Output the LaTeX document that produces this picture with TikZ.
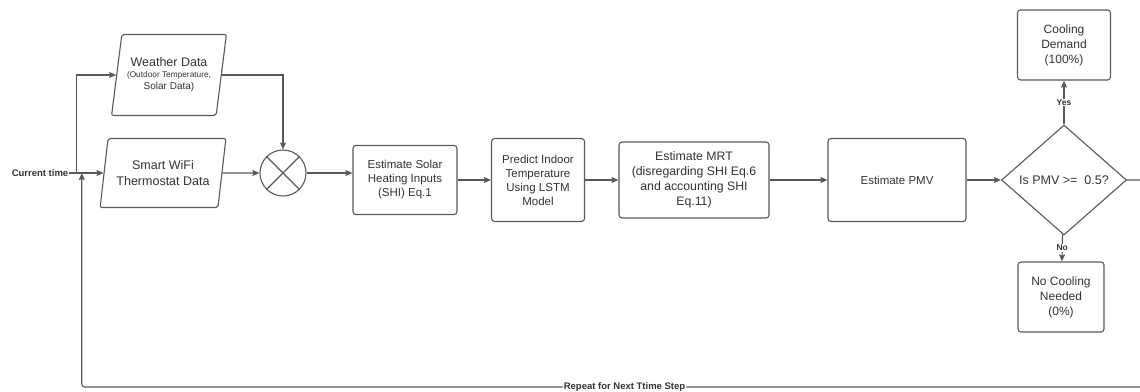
\documentclass[tikz,border=0pt]{standalone}
\usepackage{fontspec}
\setmainfont{Liberation Sans}
\usetikzlibrary{positioning,shapes.geometric,arrows.meta}
\definecolor{linegray}{HTML}{595959}
\definecolor{textgray}{HTML}{333333}

\begin{document}
\begin{tikzpicture}[x=1pt, y=-1pt, >={Stealth[length=7pt, width=6pt, inset=1pt]}, line width=1.1pt,
    every node/.style={text=textgray, align=center, inner sep=0pt},
    proc/.style={draw=linegray, rectangle, rounded corners=3pt, fill=white, font=\fontsize{11.5}{14}\selectfont},
    data/.style={draw=linegray, trapezium, trapezium left angle=75, trapezium right angle=105, trapezium stretches=true, rounded corners=2pt},
    mix/.style={draw=linegray, circle, minimum size=46pt},
    decide/.style={draw=linegray, diamond, minimum width=125pt, minimum height=110pt, fill=white, font=\fontsize{12.5}{15}\selectfont},
    flow/.style={->, draw=linegray},
    tag/.style={font=\bfseries\fontsize{9.5}{11}\selectfont}]

    \useasboundingbox (0,0) rectangle (1140,391);

    % Nodes
    \node (smart) [data, minimum width=126pt, minimum height=69pt, font=\fontsize{12.5}{16}\selectfont] at (163,173) {Smart WiFi\\Thermostat Data};
    \node (now) [tag, left of=smart, node distance=123pt] {Current time};
    \node (weather) [data, above of=smart, node distance=98pt, xshift=6pt, minimum width=115pt, minimum height=81pt] {\fontsize{12.5}{14}\selectfont Weather Data\\[-1pt]\fontsize{8.3}{10}\selectfont (Outdoor Temperature,\\Solar Data)};
    \node (circ) [mix, right of=smart, node distance=120pt] {};
    \node (s1) [proc, minimum width=104pt, minimum height=69pt] at (405,180) {Estimate Solar\\Heating Inputs\\(SHI) Eq.1};
    \node (s2) [proc, right of=s1, node distance=133pt, minimum width=93pt, minimum height=83pt] {Predict Indoor\\Temperature\\Using LSTM\\Model};
    \node (s3) [proc, right of=s2, node distance=156pt, minimum width=150pt, minimum height=76pt, font=\fontsize{12.3}{15}\selectfont] {Estimate MRT\\(disregarding SHI Eq.6\\and accounting SHI\\Eq.11)};
    \node (s4) [proc, right of=s3, node distance=203pt, minimum width=138pt, minimum height=83pt] {Estimate PMV};
    \node (dec) [decide, right of=s4, node distance=167pt] {Is PMV >=\ \ 0.5?};
    \node (cool) [proc, above of=dec, node distance=135pt, minimum width=93pt, minimum height=70pt, font=\fontsize{12}{15}\selectfont] {Cooling\\Demand\\(100\%)};
    \node (nocool) [proc, below of=dec, node distance=117pt, xshift=-3pt, minimum width=86pt, minimum height=70pt, font=\fontsize{12}{15}\selectfont] {No Cooling\\Needed\\(0\%)};
    \path (now.east) ++(8,0) coordinate (split) ++(5,0) coordinate (back);
    \coordinate (corner) at (1146,387);

    % Inputs
    \draw[flow] (now) -- (smart);
    \draw[flow] (split) |- (weather);
    \draw[flow] (weather) -| (circ);
    \draw[flow] (smart) -- (circ);
    \draw[linegray] (circ.45) -- (circ.225) (circ.135) -- (circ.315);

    % Processing chain
    \draw[flow] (circ) -- (circ -| s1.west);
    \draw[flow] (s1) -- (s2);
    \draw[flow] (s2) -- (s3);
    \draw[flow] (s3) -- (s4);
    \draw[flow] (s4) -- (dec);

    % Decision
    \draw[flow] (dec) -- node[tag, fill=white, inner sep=1pt, font=\bfseries\fontsize{8.5}{10}\selectfont] {Yes} (cool);
    \draw[flow] (dec) -- node[tag, fill=white, inner sep=1pt, font=\bfseries\fontsize{8.5}{10}\selectfont] {No} (nocool);

    % Loop back
    \draw[flow, rounded corners=3pt] (dec.east) -| (corner) -| node[pos=0.245, tag, fill=white, inner sep=1pt] {Repeat for Next Ttime Step} (back);

\end{tikzpicture}
\end{document}
